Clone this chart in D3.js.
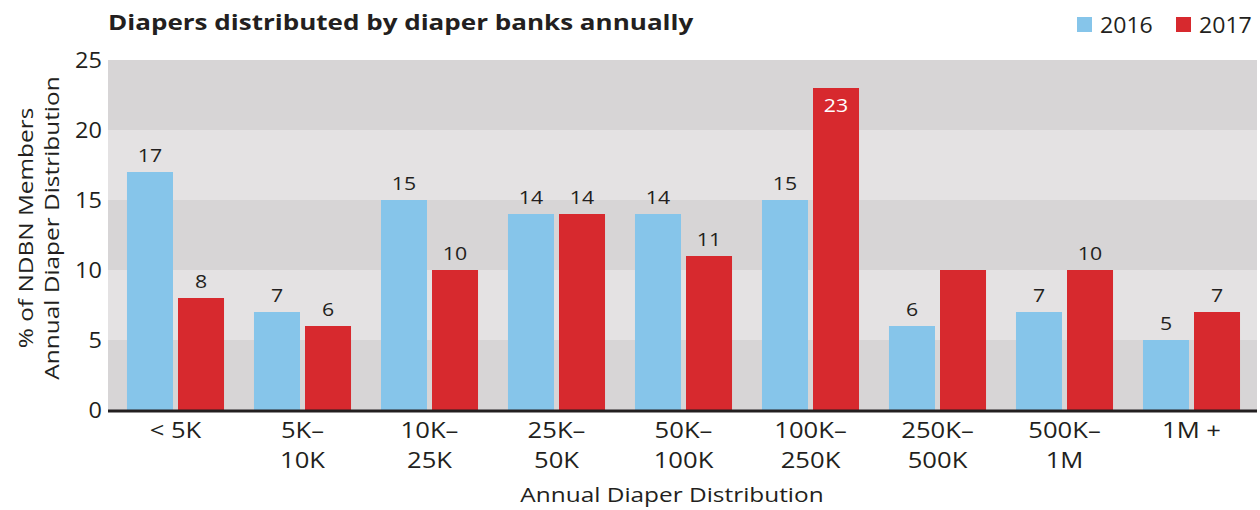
<!DOCTYPE html>
<html>
<head>
<meta charset="utf-8">
<script src="https://cdn.jsdelivr.net/npm/d3@7"></script>
<style>
  html, body { margin: 0; padding: 0; background: #fff; }
  svg text { font-family: "Open Sans", "Noto Sans", sans-serif; fill: #231f20; }
</style>
</head>
<body>
<svg id="chart" width="1260" height="510"></svg>
<script>
// Distribution bands (two-line tick labels) and yearly shares
const categories = ["< 5K", "5K–10K", "10K–25K", "25K–50K", "50K–100K", "100K–250K", "250K–500K", "500K–1M", "1M +"];
const tickLines = [["< 5K"], ["5K–", "10K"], ["10K–", "25K"], ["25K–", "50K"], ["50K–", "100K"], ["100K–", "250K"], ["250K–", "500K"], ["500K–", "1M"], ["1M +"]];
const years = ["2016", "2017"];
const values2016 = [17, 7, 15, 14, 14, 15, 6, 7, 5];
const values2017 = [8, 6, 10, 14, 11, 23, 10, 10, 7];
const yTicks = [0, 5, 10, 15, 20, 25];
// bars printed without a value label
const unlabeled = [["250K–500K", "2017"]];

const colors = { "2016": "#86c5ea", "2017": "#d7292e" };
const bandDark = "#d7d5d6", bandLight = "#e4e2e3";

// wide geometric lettering: stretch glyphs horizontally
const WORD_K = 1.22, NUM_K = 1.12;
const at = (x, y, k) => `translate(${x},${y}) scale(${k},1)`;

const svg = d3.select("#chart");
const plot = { left: 108, right: 1257, top: 60, bottom: 410 };

const rows = categories.map((c, i) => ({ cat: c, lines: tickLines[i], "2016": values2016[i], "2017": values2017[i] }));

const x = d3.scaleBand().domain(categories).range([112, 1255]).paddingInner(0.236).paddingOuter(0.118);
const xs = d3.scaleBand().domain(years).range([0, x.bandwidth()]).paddingInner(0.098);
const y = d3.scaleLinear().domain([0, 25]).range([plot.bottom, plot.top]);

// alternating horizontal bands
const bands = d3.pairs(yTicks);
svg.append("g").selectAll("rect").data(bands).join("rect")
  .attr("x", plot.left).attr("width", plot.right - plot.left)
  .attr("y", d => y(d[1])).attr("height", d => y(d[0]) - y(d[1]))
  .attr("fill", (d, i) => i % 2 === 0 ? bandDark : bandLight);

// y axis tick labels
svg.append("g").selectAll("text").data(yTicks).join("text")
  .attr("transform", d => at(102, y(d) + 7.5, NUM_K))
  .attr("text-anchor", "end").style("font-size", "21px").text(d => d);

// bars
const groups = svg.append("g").selectAll("g").data(rows).join("g")
  .attr("transform", d => `translate(${x(d.cat)},0)`);

groups.selectAll("rect").data(d => years.map(k => ({ cat: d.cat, key: k, value: d[k] }))).join("rect")
  .attr("x", d => xs(d.key)).attr("width", xs.bandwidth())
  .attr("y", d => y(d.value)).attr("height", d => y(0) - y(d.value))
  .attr("fill", d => colors[d.key]);

// value labels: above the bar, or inside when it reaches past the top band
const isLabeled = d => !unlabeled.some(u => u[0] === d.cat && u[1] === d.key);
groups.selectAll("text.val").data(d => years.map(k => ({ cat: d.cat, key: k, value: d[k] })).filter(isLabeled)).join("text")
  .attr("class", "val")
  .attr("transform", d => at(xs(d.key) + xs.bandwidth() / 2, d.value > 20 ? y(d.value) + 24 : y(d.value) - 10, NUM_K))
  .attr("text-anchor", "middle").style("font-size", "19px")
  .style("fill", d => d.value > 20 ? "#ffffff" : "#231f20")
  .text(d => d.value);

// baseline
svg.append("line").attr("x1", plot.left).attr("x2", plot.right)
  .attr("y1", y(0) + 1).attr("y2", y(0) + 1)
  .attr("stroke", "#231f20").attr("stroke-width", 3);

// x tick labels
const xl = svg.append("g").selectAll("text").data(rows).join("text")
  .attr("text-anchor", "middle").style("font-size", "21px")
  .attr("transform", d => at(x(d.cat) + x.bandwidth() / 2, 438, WORD_K));
xl.selectAll("tspan").data(d => d.lines).join("tspan")
  .attr("x", 0).attr("y", (d, i) => i * 30).text(d => d);

// axis titles
svg.append("text").attr("transform", at(672, 502, WORD_K)).attr("text-anchor", "middle")
  .style("font-size", "20px").text("Annual Diaper Distribution");

const yt = svg.append("text").attr("transform", `translate(0,228) rotate(-90) scale(${WORD_K},1)`)
  .attr("text-anchor", "middle").style("font-size", "20px");
yt.append("tspan").attr("x", 0).attr("y", 33).text("% of NDBN Members");
yt.append("tspan").attr("x", 0).attr("y", 59).text("Annual Diaper Distribution");

// title
svg.append("text").attr("transform", at(108, 30, 1.24))
  .style("font-size", "21px").style("font-weight", "bold").text("Diapers distributed by diaper banks annually");

// legend
const legendX = [1077, 1176];
const lg = svg.append("g").selectAll("g").data(years).join("g")
  .attr("transform", (d, i) => `translate(${legendX[i]},17)`);
lg.append("rect").attr("width", 15).attr("height", 15).attr("fill", d => colors[d]);
lg.append("text").attr("transform", at(23, 15.5, 1.05)).style("font-size", "22px").text(d => d);
</script>
</body>
</html>
